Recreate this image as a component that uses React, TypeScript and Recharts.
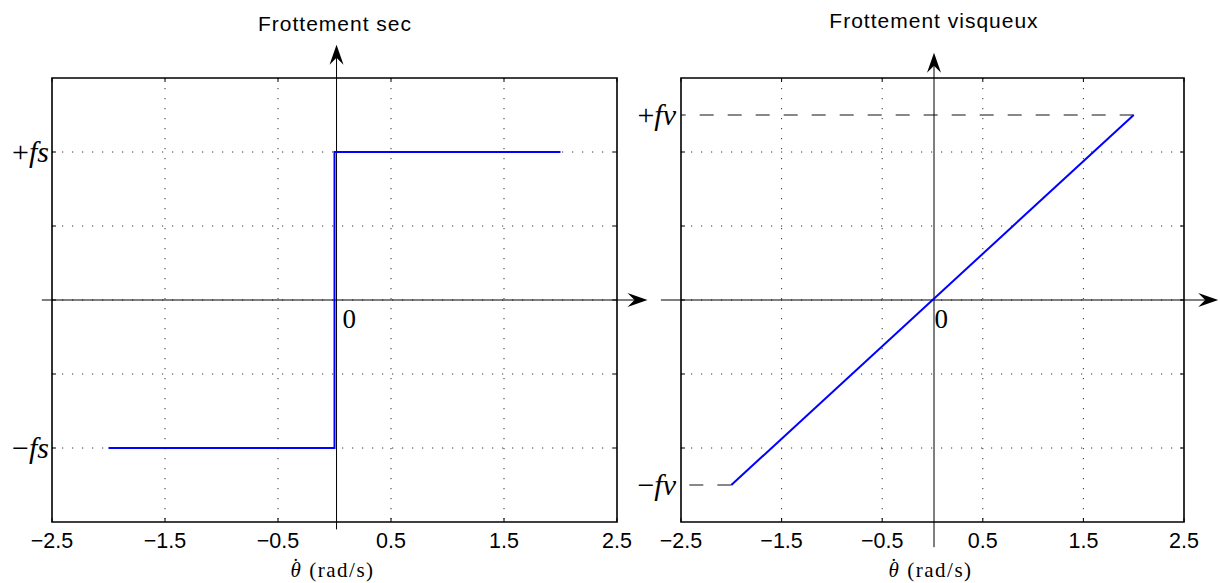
import React from "react";
import {
  LineChart,
  Line,
  XAxis,
  YAxis,
  CartesianGrid,
  ReferenceLine,
  ReferenceArea,
  ReferenceDot,
  Label,
} from "recharts";

// x ticks / grid (both panels)
const X_TICKS = [-2.5, -1.5, -0.5, 0.5, 1.5, 2.5];
const X_GRID = [-1.5, -0.5, 0.5, 1.5];
const Y_GRID = [-2, -1, 0, 1, 2];
const X_DOMAIN = [-2.5, 2.5];
const Y_DOMAIN = [-3, 3];

// dry friction (step)
const SEC_X = [-2, 0, 0, 2];
const SEC_Y = [-2, -2, 2, 2];
const SEC_LEVELS = [-2, 2];
const SEC_NAMES = ["fs", "fs"];

// viscous friction (ramp)
const VISC_X = [-2, 2];
const VISC_Y = [-2.5, 2.5];
const VISC_LEVELS = [-2.5, 2.5];
const VISC_NAMES = ["fv", "fv"];

const TITLES = ["Frottement sec", "Frottement visqueux"];
const X_LABEL = "(rad/s)";

const H = 583;
const PLOT_H = 444;
const BLUE = "#0000ff";
const SERIF = "'Liberation Serif', 'Times New Roman', serif";
const SANS = "'Liberation Sans', Arial, sans-serif";

function fmtTick(v: number) {
  return v < 0 ? `\u2212${Math.abs(v)}` : String(v);
}

function arrowShape(props: any) {
  const { x1, y1, x2, y2 } = props;
  const dx = x2 - x1;
  const dy = y2 - y1;
  const len = Math.hypot(dx, dy) || 1;
  const ux = dx / len;
  const uy = dy / len;
  const px = -uy;
  const py = ux;
  const L = 20, W = 7, N = 13;
  const pts = [
    [x2, y2],
    [x2 - ux * L + px * W, y2 - uy * L + py * W],
    [x2 - ux * N, y2 - uy * N],
    [x2 - ux * L - px * W, y2 - uy * L - py * W],
  ]
    .map((p) => p.join(","))
    .join(" ");
  return (
    <g>
      <line x1={x1} y1={y1} x2={x2 - ux * N} y2={y2 - uy * N} stroke="#000" strokeWidth={1} />
      <polygon points={pts} fill="#000" />
    </g>
  );
}

type PanelProps = {
  width: number;
  margin: { top: number; right: number; bottom: number; left: number };
  xs: number[];
  ys: number[];
  levels: number[];
  names: string[];
  axisX: number[];
  axisY: number[];
  axisX0: number;
  zeroDx: number;
  labelGap: number;
  dashed?: boolean;
};

function Panel(p: PanelProps) {
  const plotW = p.width - p.margin.left - p.margin.right - 1;
  const data = p.xs.map((x, i) => ({ x, y: p.ys[i] }));
  const yTicks = Array.from(new Set([...Y_GRID, ...p.levels])).sort((a, b) => a - b);

  const xTick = (t: any) => (
    <g key={`xt${t.index}`}>
      <line x1={t.x} y1={t.y} x2={t.x} y2={t.y - 4} stroke="#000" />
      <line x1={t.x} y1={t.y - PLOT_H} x2={t.x} y2={t.y - PLOT_H + 4} stroke="#000" />
      <text x={t.x} y={t.y + 26} textAnchor="middle" fontFamily={SANS} fontSize={21.5} fill="#000">
        {fmtTick(t.payload.value)}
      </text>
    </g>
  );

  const yTick = (t: any) => {
    const v = t.payload.value;
    const li = p.levels.indexOf(v);
    const isGrid = Y_GRID.includes(v);
    return (
      <g key={`yt${t.index}`}>
        {isGrid && (
          <>
            <line x1={t.x} y1={t.y} x2={t.x + 4} y2={t.y} stroke="#000" />
            <line x1={t.x + plotW} y1={t.y} x2={t.x + plotW - 4} y2={t.y} stroke="#000" />
          </>
        )}
        {li >= 0 && (
          <text
            x={t.x - p.labelGap}
            y={t.y + 10}
            textAnchor="end"
            fontFamily={SERIF}
            fontSize={30}
            fill="#000"
          >
            <tspan>{v < 0 ? "\u2212" : "+"}</tspan>
            <tspan fontStyle="italic">{p.names[li]}</tspan>
          </text>
        )}
      </g>
    );
  };

  return (
    <LineChart width={p.width} height={H} data={data} margin={p.margin}>
      <CartesianGrid
        stroke="#333"
        strokeDasharray="1.2 8.8"
        horizontalValues={Y_GRID}
        verticalValues={X_GRID}
      />
      <XAxis
        dataKey="x"
        type="number"
        domain={X_DOMAIN}
        ticks={X_TICKS}
        interval={0}
        allowDataOverflow
        height={1}
        axisLine={false}
        tickLine={false}
        tickSize={0}
        tickMargin={0}
        tick={xTick}
      >
        <Label
          content={(lp: any) => {
            const vb = lp.viewBox || {};
            return (
              <text
                x={vb.x + vb.width / 2 - 2}
                y={vb.y + 55}
                textAnchor="middle"
                fontFamily={SERIF}
                fontSize={21}
                fill="#000"
              >
                <tspan fontStyle="italic">{"\u03b8"}</tspan>
                <tspan dx={-8.5} dy={-4}>{"\u02d9"}</tspan>
                <tspan dx={10} dy={4} letterSpacing={1.5}>{X_LABEL}</tspan>
              </text>
            );
          }}
        />
      </XAxis>
      <YAxis
        type="number"
        domain={Y_DOMAIN}
        ticks={yTicks}
        interval={0}
        allowDataOverflow
        width={1}
        axisLine={false}
        tickLine={false}
        tickSize={0}
        tickMargin={0}
        tick={yTick}
      />
      <ReferenceArea
        x1={X_DOMAIN[0]}
        x2={X_DOMAIN[1]}
        y1={Y_DOMAIN[0]}
        y2={Y_DOMAIN[1]}
        fill="none"
        fillOpacity={0}
        stroke="#000"
        strokeWidth={1.6}
        ifOverflow="visible"
      />
      {p.dashed &&
        p.levels.map((lv, i) => (
          <ReferenceLine
            key={`d${i}`}
            segment={[
              { x: i === 0 ? p.xs[0] : p.xs[p.xs.length - 1], y: lv },
              { x: X_DOMAIN[0], y: lv },
            ]}
            stroke="#111"
            strokeWidth={1}
            strokeDasharray="14 14"
            ifOverflow="visible"
          />
        ))}
      <ReferenceLine
        segment={[
          { x: p.axisX[0], y: 0 },
          { x: p.axisX[1], y: 0 },
        ]}
        ifOverflow="visible"
        shape={arrowShape}
      />
      <ReferenceLine
        segment={[
          { x: p.axisX0, y: p.axisY[0] },
          { x: p.axisX0, y: p.axisY[1] },
        ]}
        ifOverflow="visible"
        shape={arrowShape}
      />
      <ReferenceDot
        x={0}
        y={0}
        r={1}
        ifOverflow="visible"
        shape={(d: any) => (
          <text x={d.cx + p.zeroDx} y={d.cy + 28} fontFamily={SERIF} fontSize={27} fill="#000">
            0
          </text>
        )}
      />
      <Line
        type="linear"
        dataKey="y"
        stroke={BLUE}
        strokeWidth={2}
        dot={false}
        activeDot={false}
        isAnimationActive={false}
      />
    </LineChart>
  );
}

export default function App() {
  const titleStyle = { fontFamily: SANS, fontSize: 21, letterSpacing: 1 } as const;
  return (
    <div style={{ position: "absolute", left: 0, top: 0, width: 1220, height: H, background: "#fff" }}>
      <style>{".recharts-surface{overflow:visible}"}</style>
      <div style={{ position: "absolute", left: 0, top: 0 }}>
        <Panel
          width={640}
          margin={{ top: 78, right: 23, bottom: 60, left: 51 }}
          xs={SEC_X}
          ys={SEC_Y}
          levels={SEC_LEVELS}
          names={SEC_NAMES}
          axisX={[-2.59, 2.77]}
          axisY={[-3.1, 3.45]}
          axisX0={0.018}
          zeroDx={8}
          labelGap={3}
        />
      </div>
      <div style={{ position: "absolute", left: 640, top: 0 }}>
        <Panel
          width={580}
          margin={{ top: 78, right: 36, bottom: 60, left: 40 }}
          xs={VISC_X}
          ys={VISC_Y}
          levels={VISC_LEVELS}
          names={VISC_NAMES}
          axisX={[-2.7, 2.84]}
          axisY={[-3.34, 3.34]}
          axisX0={0.015}
          zeroDx={2}
          labelGap={5}
          dashed
        />
      </div>
      <svg
        width={1220}
        height={H}
        style={{ position: "absolute", left: 0, top: 0, pointerEvents: "none" }}
      >
        <text x={335} y={31} textAnchor="middle" style={titleStyle} fill="#000">
          {TITLES[0]}
        </text>
        <text x={934} y={27.5} textAnchor="middle" style={titleStyle} fill="#000">
          {TITLES[1]}
        </text>
      </svg>
    </div>
  );
}
